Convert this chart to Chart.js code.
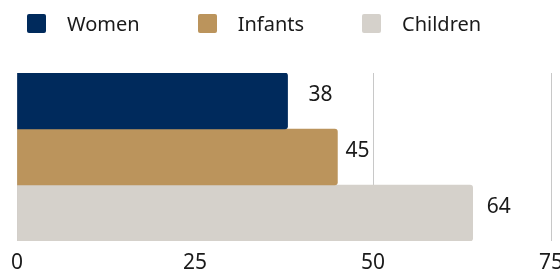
<!DOCTYPE html>
<html>
<head>
<meta charset="utf-8">
<script src="https://cdn.jsdelivr.net/npm/chart.js@4/dist/chart.umd.min.js"></script>
<style>
  html, body { margin: 0; padding: 0; background: #fff; }
  #wrap { position: relative; width: 560px; height: 271px; }
  #legend {
    position: absolute; top: 14px; left: 27px; height: 19px;
    display: flex; align-items: center;
    font-family: "Noto Sans", sans-serif; font-size: 20px; color: #1a1a1a;
  }
  #legend .item { display: flex; align-items: center; margin-right: 58px; }
  #legend .box { width: 19px; height: 19px; border-radius: 2px; margin-right: 21px; }
</style>
</head>
<body>
<div id="wrap">
  <div id="legend"></div>
  <canvas id="chart" width="560" height="271"></canvas>
</div>
<script>
const categories = ['Total'];
const seriesNames = ['Women', 'Infants', 'Children'];
const women = [38];
const infants = [45];
const children = [64];
const xTicks = [0, 25, 50, 75];

const colors = ['#002a5c', '#bb945c', '#d5d1cb'];
const labelShift = [21, 8, 14];

const values = [women, infants, children];

// html legend, simple boxes + names
const legendDiv = document.getElementById('legend');
seriesNames.forEach((name, i) => {
  const item = document.createElement('div');
  item.className = 'item';
  item.innerHTML = `<span class="box" style="background:${colors[i]}"></span><span>${name}</span>`;
  legendDiv.appendChild(item);
});

const valueLabels = {
  id: 'valueLabels',
  afterDatasetsDraw(chart) {
    const ctx = chart.ctx;
    ctx.save();
    ctx.font = '21px "Noto Sans", sans-serif';
    ctx.fillStyle = '#1a1a1a';
    ctx.textBaseline = 'middle';
    ctx.textAlign = 'left';
    chart.data.datasets.forEach((ds, i) => {
      chart.getDatasetMeta(i).data.forEach((bar, j) => {
        ctx.fillText(ds.data[j], bar.x + labelShift[i], bar.y - 6);
      });
    });
    ctx.restore();
  }
};

new Chart(document.getElementById('chart'), {
  type: 'bar',
  data: {
    labels: categories,
    datasets: seriesNames.map((name, i) => ({
      label: name,
      data: values[i],
      backgroundColor: colors[i],
      borderRadius: 3,
      barPercentage: 1,
      categoryPercentage: 1
    }))
  },
  options: {
    indexAxis: 'y',
    responsive: false,
    animation: false,
    layout: { padding: { top: 73, left: 17, right: 0, bottom: 0 } },
    plugins: {
      legend: { display: false },
      tooltip: { enabled: false }
    },
    scales: {
      y: { display: false },
      x: {
        min: xTicks[0],
        max: xTicks[xTicks.length - 1],
        afterBuildTicks: axis => { axis.ticks = xTicks.map(v => ({ value: v })); },
        afterFit: axis => {
          // let the "75" run off the edge like the original
          axis.height = 30;
          axis.paddingLeft = 0;
          axis.paddingRight = 9;
        },
        border: { display: false },
        grid: { color: '#c8c8c8', lineWidth: 1, drawTicks: false },
        ticks: {
          padding: 9,
          color: '#1a1a1a',
          font: { family: '"Noto Sans", sans-serif', size: 21 }
        }
      }
    }
  },
  plugins: [valueLabels]
});
</script>
</body>
</html>
